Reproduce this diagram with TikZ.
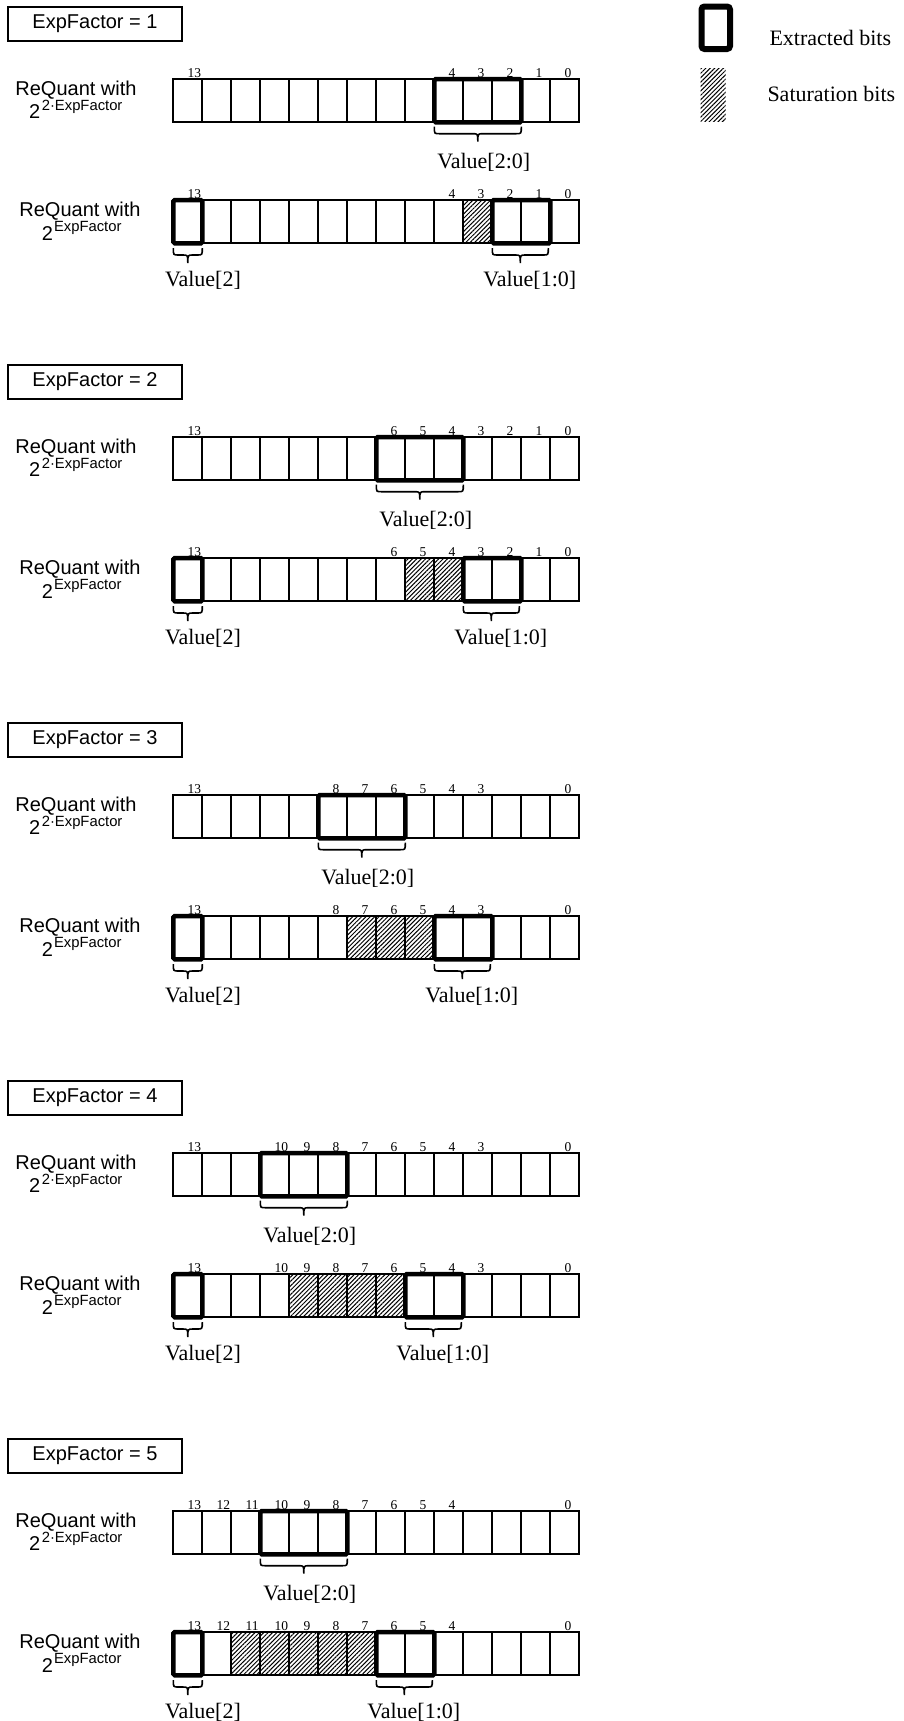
\documentclass[tikz,border=0pt]{standalone}
\usepackage{fontspec}
\setmainfont{Liberation Serif}
\newfontfamily\arialf{Liberation Sans}
\usetikzlibrary{patterns.meta}
\tikzset{
  cellline/.style={line width=1.9pt},
  thickbox/.style={line width=4.5pt, rounded corners=1.5pt},
  hatchfill/.style={pattern={Lines[angle=45,distance=3.1pt,line width=1pt]}},
  bitnum/.style={anchor=base west, inner sep=0pt, font=\fontsize{13.5}{13.5}\selectfont},
  vallabel/.style={anchor=base, inner sep=0pt, font=\fontsize{22}{22}\selectfont},
  legtext/.style={anchor=base west, inner sep=0pt, font=\fontsize{22}{22}\selectfont},
  bracestyle/.style={line width=1.6pt},
  expbox/.style={draw, line width=1.7pt, minimum width=173.4pt, minimum height=33.4pt, inner sep=0pt, font=\arialf\fontsize{20}{22}\selectfont},
  rqlabel/.style={anchor=base, inner sep=0pt, font=\arialf\fontsize{20}{22}\selectfont},
  rqexp/.style={anchor=base west, inner sep=0pt, font=\arialf\fontsize{20}{22}\selectfont},
  legendbox/.style={line width=6pt, rounded corners=3pt}
}
\newcommand\supfont{\fontsize{14.8}{15}\selectfont}
\newcommand\hbrace[3]{%
  \pgfmathsetmacro\bxa{#1}\pgfmathsetmacro\bxb{#2}\pgfmathsetmacro\byt{#3}%
  \pgfmathsetmacro\bxm{(\bxa+\bxb)/2}%
  \pgfmathsetmacro\bym{\byt+7}\pgfmathsetmacro\byb{\byt+15}%
  \draw[bracestyle] (\bxa,\byt) .. controls (\bxa,\bym) .. (\bxa+5,\bym) -- (\bxm-5,\bym) .. controls (\bxm,\bym) .. (\bxm,\byb) .. controls (\bxm,\bym) .. (\bxm+5,\bym) -- (\bxb-5,\bym) .. controls (\bxb,\bym) .. (\bxb,\byt);%
}
\begin{document}
\begin{tikzpicture}[x=1pt,y=-1pt]
\useasboundingbox (0,0) rectangle (903,1721);
% legend
\draw[legendbox] (701.5,6.5) rectangle (730,49);
\node[legtext] (legA) at (769.3,45) {Extracted bits};
\fill[hatchfill] (700.7,68.3) rectangle (725.7,121.7);
\node[legtext] (legB) at (767.3,101.7) {Saturation bits};
\foreach \k/\E/\nums/\hatch/\ta/\tb/\ua/\ub in {%
  0/1/{13,4,3,2,1,0}/{3}/4/2/2/1,%
  1/2/{13,6,5,4,3,2,1,0}/{5,4}/6/4/3/2,%
  2/3/{13,8,7,6,5,4,3,0}/{7,6,5}/8/6/4/3,%
  3/4/{13,10,9,8,7,6,5,4,3,0}/{9,8,7,6}/10/8/5/4,%
  4/5/{13,12,11,10,9,8,7,6,5,4,0}/{11,10,9,8,7}/10/8/6/5}{%
  \pgfmathsetmacro\dy{\k*358}
  \node[expbox] (box\k) at (95,{24+\dy}) {ExpFactor = \E};
  \node[rqlabel] (rqa\k) at (76,{95+\dy}) {ReQuant with};
  \node[rqexp] (rqb\k) at (29,{118+\dy}) {2\kern1.5pt\raisebox{8pt}{\supfont 2·ExpFactor}};
  \node[rqlabel] (rqc\k) at (80,{216+\dy}) {ReQuant with};
  \node[rqexp] (rqd\k) at (41.7,{240+\dy}) {2\kern1pt\raisebox{8.3pt}{\supfont ExpFactor}};
  \foreach \b in \hatch {
    \fill[hatchfill] ({173.3+(13-\b)*29},{200+\dy}) rectangle ++(29,43.3);
  }
  \foreach \i in {0,...,13} {
    \draw[cellline] ({173.3+\i*29},{79+\dy}) rectangle ++(29,43.3);
    \draw[cellline] ({173.3+\i*29},{200+\dy}) rectangle ++(29,43.3);
  }
  \foreach \b in \nums {
    \node[bitnum] (n\k-a-\b) at ({173.3+(13-\b)*29+14},{77+\dy}) {\b};
    \node[bitnum] (n\k-b-\b) at ({173.3+(13-\b)*29+14},{198+\dy}) {\b};
  }
  \draw[thickbox] ({173.3+(13-\ta)*29},{79+\dy}) rectangle ({173.3+(14-\tb)*29},{122.3+\dy});
  \draw[thickbox] (173.3,{200+\dy}) rectangle (202.3,{243.3+\dy});
  \draw[thickbox] ({173.3+(13-\ua)*29},{200+\dy}) rectangle ({173.3+(14-\ub)*29},{243.3+\dy});
  \hbrace{173.3+(13-\ta)*29}{173.3+(14-\tb)*29}{126.7+\dy}
  \hbrace{173.3}{202.3}{248+\dy}
  \hbrace{173.3+(13-\ua)*29}{173.3+(14-\ub)*29-2}{248+\dy}
  \node[vallabel] (vA\k) at ({173.3+(13-\ta)*29+43.5+6},{168.3+\dy}) {Value[2:0]};
  \node[vallabel] (vB\k) at (203,{286+\dy}) {Value[2]};
  \node[vallabel] (vC\k) at ({173.3+(13-\ua)*29+29+8.5},{286.5+\dy}) {Value[1:0]};
}
\end{tikzpicture}
\end{document}
